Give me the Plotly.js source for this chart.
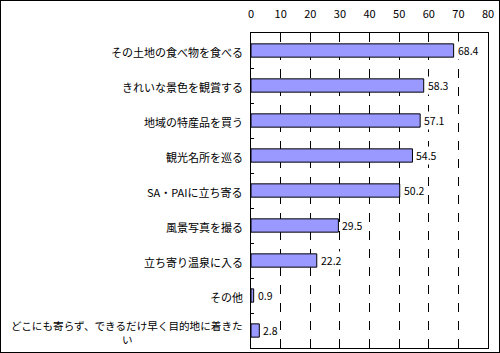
<!DOCTYPE html>
<html><head><meta charset="utf-8">
<script src="https://cdn.plot.ly/plotly-3.0.1.min.js"></script>
<style>html,body{margin:0;padding:0;background:#fff}#c{width:500px;height:353px;box-sizing:border-box;border:1px solid #000;position:relative;overflow:hidden}#p{position:absolute;left:-1px;top:-1px;width:500px;height:353px}</style>
</head><body><div id="c"><div id="p"></div></div>
<script>
const categories = ["その土地の食べ物を食べる","きれいな景色を観賞する","地域の特産品を買う","観光名所を巡る","SA・PAIに立ち寄る","風景写真を撮る","立ち寄り温泉に入る","その他","どこにも寄らず、できるだけ早く目的地に着きた<br>い"];
const values = [68.4, 58.3, 57.1, 54.5, 50.2, 29.5, 22.2, 0.9, 2.8];
const valueLabels = ["68.4","58.3","57.1","54.5","50.2","29.5","22.2","0.9","2.8"];
const tickVals = [0,10,20,30,40,50,60,70,80];

const font = "'Noto Sans CJK JP', 'Noto Sans', sans-serif";
const trace = {
  type: 'bar', orientation: 'h',
  x: values, y: categories.map((c,i)=>i),
  marker: {color: '#9999ff', line: {color: '#000', width: 1}},
  width: 0.38, hoverinfo: 'none'
};
const annotations = [];
categories.forEach((c,i)=>{
  const lines = c.split('<br>');
  const n = lines.length;
  lines.forEach((ln,k)=>{
    annotations.push({
      xref: 'paper', yref: 'y', x: (n > 1 && k > 0) ? -0.52 : -0.03, y: i,
      xanchor: (n > 1 && k > 0) ? 'center' : 'right', yanchor: 'middle',
      text: ln, showarrow: false, borderpad: 0,
      yshift: n > 1 ? (k === 0 ? 5 : -9) : -1,
      font: {family: font, size: n > 1 ? 10.6 : 11, color: '#000'}
    });
  });
});
// value labels with white background (hides the gridlines behind them)
values.forEach((v,i)=>{
  annotations.push({
    xref: 'x', yref: 'y', x: v, y: i, xanchor: 'left', yanchor: 'middle',
    xshift: 2, text: valueLabels[i], showarrow: false, bgcolor: '#fff', borderpad: 1,
    font: {family: font, size: 10.5, color: '#000'}
  });
});
const layout = {
  width: 500, height: 353,
  margin: {l: 251, r: 12, t: 33, b: 5},
  paper_bgcolor: '#fff', plot_bgcolor: '#fff',
  showlegend: false,
  font: {family: font, size: 11, color: '#000'},
  xaxis: {side: 'top', range: [0, 80], tickvals: tickVals, ticktext: tickVals.map(String),
    showgrid: true, gridcolor: '#000', gridwidth: 1, griddash: 'dash',
    showline: true, linecolor: '#000', linewidth: 1, mirror: true,
    ticks: '', zeroline: false, fixedrange: true, ticklabelstandoff: 10,
    tickfont: {family: font, size: 11, color: '#000'}},
  yaxis: {range: [categories.length - 0.5, -0.5], tickvals: categories.map((c,i)=>i+0.5).slice(0,-1),
    ticks: 'inside', ticklen: 3, tickcolor: '#000', showticklabels: false,
    showline: true, linecolor: '#000', linewidth: 1, mirror: true, showgrid: false, zeroline: false, fixedrange: true},
  annotations: annotations
};
Plotly.newPlot('p', [trace], layout, {staticPlot: true});
</script></body></html>
